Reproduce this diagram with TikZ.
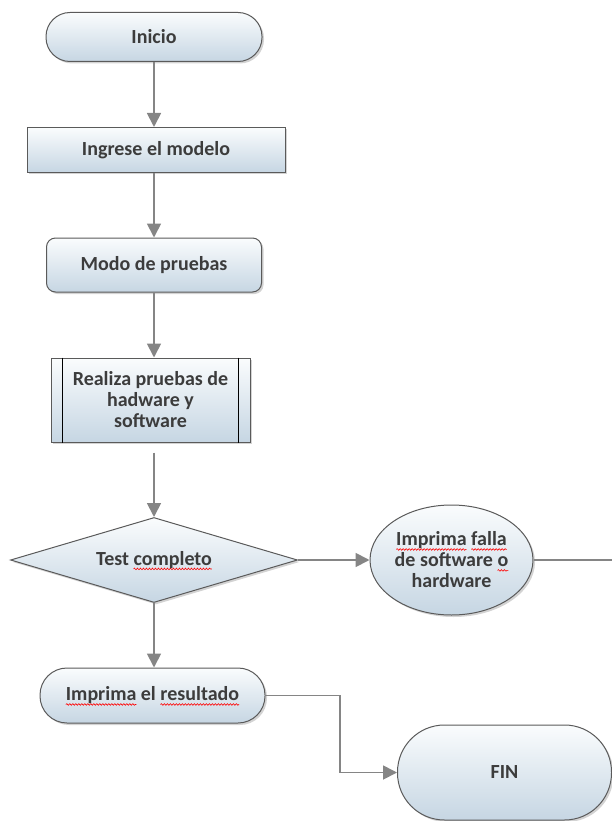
\documentclass[tikz,border=0pt]{standalone}
\usepackage{fontspec}
\setmainfont{Carlito}
\usetikzlibrary{shapes.geometric, arrows.meta, positioning, calc, shadows, decorations.pathmorphing}
\definecolor{BoxTop}{HTML}{FAFCFD}
\definecolor{BoxBottom}{HTML}{C6D6E3}
\definecolor{EdgeGray}{HTML}{5A5A5A}
\definecolor{LineGray}{HTML}{858585}
\definecolor{TextGray}{HTML}{3C3C3C}
\newsavebox{\wavebox}
\newcommand{\redwave}[1]{\sbox{\wavebox}{#1}\leavevmode\rlap{\tikz[overlay]\draw[red, line width=0.6pt, sharp corners,
    decorate, decoration={snake, amplitude=0.8pt, segment length=3pt}] (0pt,-3.5pt) -- (\wd\wavebox,-3.5pt);}\usebox{\wavebox}}
\tikzset{
  box/.style={draw=EdgeGray, line width=1pt, top color=BoxTop, bottom color=BoxBottom,
              drop shadow={shadow xshift=2pt, shadow yshift=-2pt, opacity=0.35},
              text=TextGray, font=\fontsize{20}{21}\selectfont\bfseries,
              align=center, inner sep=0pt},
  conn/.style={draw=LineGray, line width=1.8pt,
               -{Triangle[width=14pt,length=14pt,fill=LineGray]}},
  plain/.style={draw=LineGray, line width=1.8pt}
}

\begin{document}
\begin{tikzpicture}[x=1pt, y=-1pt]
\useasboundingbox (0,0) rectangle (612,821);

% nodes
\node[box, rounded corners=24pt, minimum width=216pt, minimum height=49pt] (inicio) at (154,37) {Inicio};
\node[box, minimum width=258pt, minimum height=45pt] (ingrese) at (156,150) {Ingrese el modelo};
\node[box, rounded corners=9pt, minimum width=215pt, minimum height=54pt] (modo) at (154,265) {Modo de pruebas};
\node[box, minimum width=199pt, minimum height=84pt] (realiza) at (150.5,400)
     {Realiza pruebas de\\ hadware y\\ software};
\node[box, diamond, aspect=3.4, minimum width=287pt, minimum height=85pt] (test) at (154,560)
     {Test \redwave{completo}};
\node[box, ellipse, minimum width=163pt, minimum height=110pt, inner xsep=-4pt] (falla) at (451.5,560)
     {\redwave{Imprima} \redwave{falla}\\ de software \redwave{o}\\ hardware};
\node[box, rounded corners=27pt, minimum width=225pt, minimum height=55pt] (resultado) at (152.5,695.5)
     {\redwave{Imprima} el \redwave{resultado}};
\node[box, rounded corners=47pt, minimum width=214pt, minimum height=95pt] (fin) at (504.5,772.5) {FIN};

% inner bars of the process box
\draw[black, line width=1.2pt] ([xshift=12pt]realiza.north west) -- ([xshift=12pt]realiza.south west);
\draw[black, line width=1.2pt] ([xshift=-12pt]realiza.north east) -- ([xshift=-12pt]realiza.south east);

\coordinate (salida) at (612,560);
\coordinate (codo) at (340,0);

% connectors
\draw[conn] (inicio.south) -- (inicio.south |- ingrese.north);
\draw[conn] (inicio.south |- ingrese.south) -- (modo.north);
\draw[conn] (modo.south) -- (modo.south |- realiza.north);
\draw[conn] ([yshift=-10pt]modo.south |- realiza.south) -- (test.north);
\draw[conn] (test.east) -- (falla.west);
\draw[plain] (falla.east) -- (salida);
\draw[conn] (test.south) -- (test.south |- resultado.north);
\draw[conn] (resultado.east) -- (resultado.east -| codo) |- (fin.west);
\end{tikzpicture}
\end{document}
